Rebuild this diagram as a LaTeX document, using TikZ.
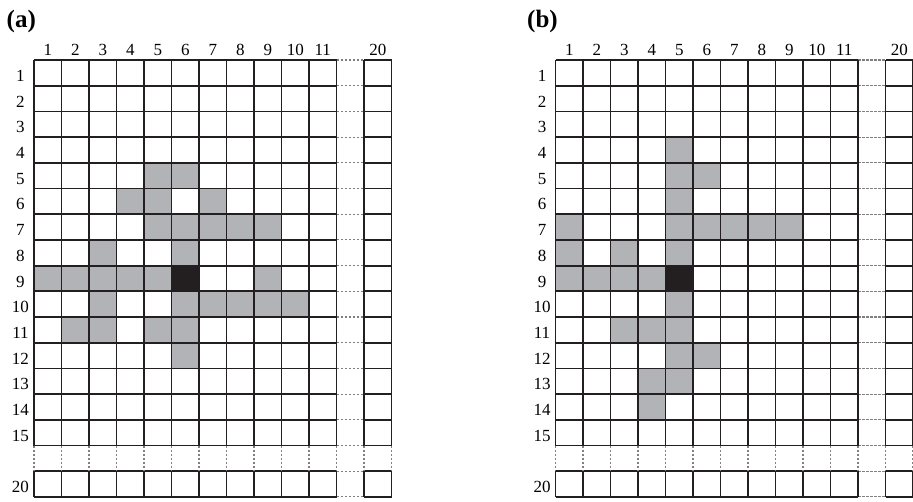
\documentclass[tikz,border=0pt]{standalone}
\usepackage{fontspec}
\setmainfont{Liberation Serif}
\definecolor{cellgray}{HTML}{B1B3B6}
\definecolor{cellblack}{HTML}{231F20}
\definecolor{gridline}{HTML}{231F20}
\definecolor{dashgray}{HTML}{808080}
\tikzset{
  gridsolid/.style={draw=gridline, line width=1.8pt},
  griddash/.style={draw=dashgray, line width=1.1pt, dash pattern=on 2.5pt off 1.5pt},
  graycell/.style={fill=cellgray},
  blackcell/.style={fill=cellblack},
  numlabel/.style={font=\fontsize{17}{17}\selectfont, inner sep=0pt, anchor=base},
  panellabel/.style={font=\fontsize{25}{25}\selectfont\bfseries, inner sep=0pt, anchor=base west},
}
\begin{document}
\begin{tikzpicture}[x=1pt,y=-1pt]
\useasboundingbox (0,0) rectangle (913,501);
\def\cw{27.5}
\def\rh{25.7}
\def\gtop{60}
% panel labels
\node[panellabel] (pa) at (6.5,27) {(a)};
\node[panellabel] (pb) at (527,27) {(b)};
\foreach \px/\pn/\cells/\blk in {
  34/a/{5/5,5/6,6/4,6/5,6/7,7/5,7/6,7/7,7/8,7/9,8/3,8/6,9/1,9/2,9/3,9/4,9/5,9/9,10/3,10/6,10/7,10/8,10/9,10/10,11/2,11/3,11/5,11/6,12/6}/{9/6},
  555.5/b/{4/5,5/5,5/6,6/5,7/1,7/5,7/6,7/7,7/8,7/9,8/1,8/3,8/5,9/1,9/2,9/3,9/4,10/5,11/3,11/4,11/5,12/5,12/6,13/4,13/5,14/4}/{9/5}}{
  \begin{scope}[shift={(\px,\gtop)}]
    % shaded cells
    \foreach \r/\c in \cells {
      \fill[graycell] ({(\c-1)*\cw},{(\r-1)*\rh}) rectangle ({\c*\cw},{\r*\rh});
    }
    \foreach \r/\c in \blk {
      \fill[blackcell] ({(\c-1)*\cw},{(\r-1)*\rh}) rectangle ({\c*\cw},{\r*\rh});
    }
    % horizontal lines
    \foreach \k in {0,...,17} {
      \draw[gridsolid] (0,{\k*\rh}) -- ({11*\cw},{\k*\rh});
      \draw[gridsolid] ({12*\cw},{\k*\rh}) -- ({13*\cw},{\k*\rh});
      \draw[griddash] ({11*\cw},{\k*\rh}) -- ({12*\cw},{\k*\rh});
    }
    % vertical lines
    \foreach \k in {0,...,13} {
      \draw[gridsolid] ({\k*\cw},0) -- ({\k*\cw},{15*\rh});
      \draw[gridsolid] ({\k*\cw},{16*\rh}) -- ({\k*\cw},{17*\rh});
      \draw[griddash] ({\k*\cw},{15*\rh}) -- ({\k*\cw},{16*\rh});
    }
    % column labels
    \foreach \c in {1,...,11} {
      \node[numlabel] (col\pn\c) at ({(\c-0.5)*\cw},-5) {\c};
    }
    \node[numlabel] (col\pn20) at ({12.5*\cw},-5) {20};
    % row labels
    \foreach \r in {1,...,15} {
      \node[numlabel] (row\pn\r) at (-13.5,{\r*\rh-4.3}) {\r};
    }
    \node[numlabel] (row\pn20) at (-13.5,{17*\rh-4.3}) {20};
  \end{scope}
}
\end{tikzpicture}
\end{document}
